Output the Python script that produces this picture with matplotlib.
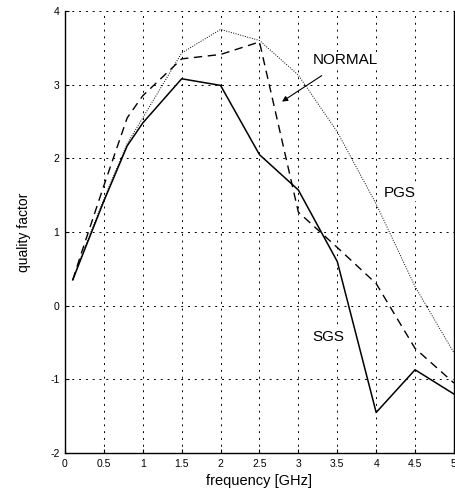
import matplotlib.pyplot as plt

plt.rcParams['font.family'] = ['Liberation Sans', 'DejaVu Sans']
plt.rcParams['axes.unicode_minus'] = False

# frequency points [GHz]
freq_sgs = [0.1, 0.2, 0.5, 0.8, 1.0, 1.5, 2.0, 2.5, 3.0, 3.5, 4.0, 4.5, 5.0]
q_sgs = [0.35, 0.62, 1.42, 2.17, 2.48, 3.08, 2.99, 2.05, 1.57, 0.6, -1.45, -0.87, -1.2]

freq_normal = [0.1, 0.2, 0.5, 0.8, 1.0, 1.5, 2.0, 2.5, 3.0, 3.5, 4.0, 4.5, 5.0]
q_normal = [0.35, 0.68, 1.63, 2.55, 2.85, 3.35, 3.41, 3.58, 1.27, 0.79, 0.3, -0.58, -1.05]

freq_pgs = [0.1, 0.2, 0.5, 0.8, 1.0, 1.5, 2.0, 2.5, 3.0, 3.5, 4.0, 4.5, 5.0]
q_pgs = [0.35, 0.64, 1.45, 2.2, 2.55, 3.43, 3.75, 3.6, 3.13, 2.36, 1.38, 0.26, -0.64]

xticks = [0, 0.5, 1, 1.5, 2, 2.5, 3, 3.5, 4, 4.5, 5]
xticklabels = ['0', '0.5', '1', '1.5', '2', '2.5', '3', '3.5', '4', '4.5', '5']
yticks = [-2, -1, 0, 1, 2, 3, 4]

fig = plt.figure(figsize=(4.56, 5.0), dpi=100)
ax = fig.add_axes([0.1425, 0.094, 0.853, 0.884])

ax.plot(freq_sgs, q_sgs, color='black', linewidth=1.1)
ax.plot(freq_normal, q_normal, color='black', linewidth=1.0, linestyle=(0, (6, 4)))
ax.plot(freq_pgs, q_pgs, color='black', linewidth=0.7, linestyle=(0, (1, 1.5)))

ax.set_xlim(0, 5)
ax.set_ylim(-2, 4)
ax.set_xticks(xticks)
ax.set_xticklabels(xticklabels)
ax.set_yticks(yticks)
ax.grid(True, color='black', linestyle=(0, (2, 5)), linewidth=0.7)
ax.tick_params(axis='both', direction='in', length=3, labelsize=7.5, pad=4)
ax.spines['top'].set_visible(False)
for side in ['left', 'bottom', 'right']:
    ax.spines[side].set_linewidth(1.0)

ax.set_xlabel('frequency [GHz]', fontsize=10.5)
ax.set_ylabel('quality factor', fontsize=10, labelpad=14)

box = dict(facecolor='white', edgecolor='none', pad=1)
ax.annotate('NORMAL', xy=(2.79, 2.77), xytext=(3.6, 3.33),
            fontsize=11, ha='center', va='center', bbox=box,
            arrowprops=dict(arrowstyle='-|>', color='black', lw=0.8,
                            shrinkA=9, shrinkB=0, mutation_scale=8))
ax.text(4.3, 1.53, 'PGS', fontsize=11, ha='center', va='center', bbox=box)
ax.text(3.38, -0.42, 'SGS', fontsize=11, ha='center', va='center', bbox=box)

plt.savefig('out.png', dpi=100)
